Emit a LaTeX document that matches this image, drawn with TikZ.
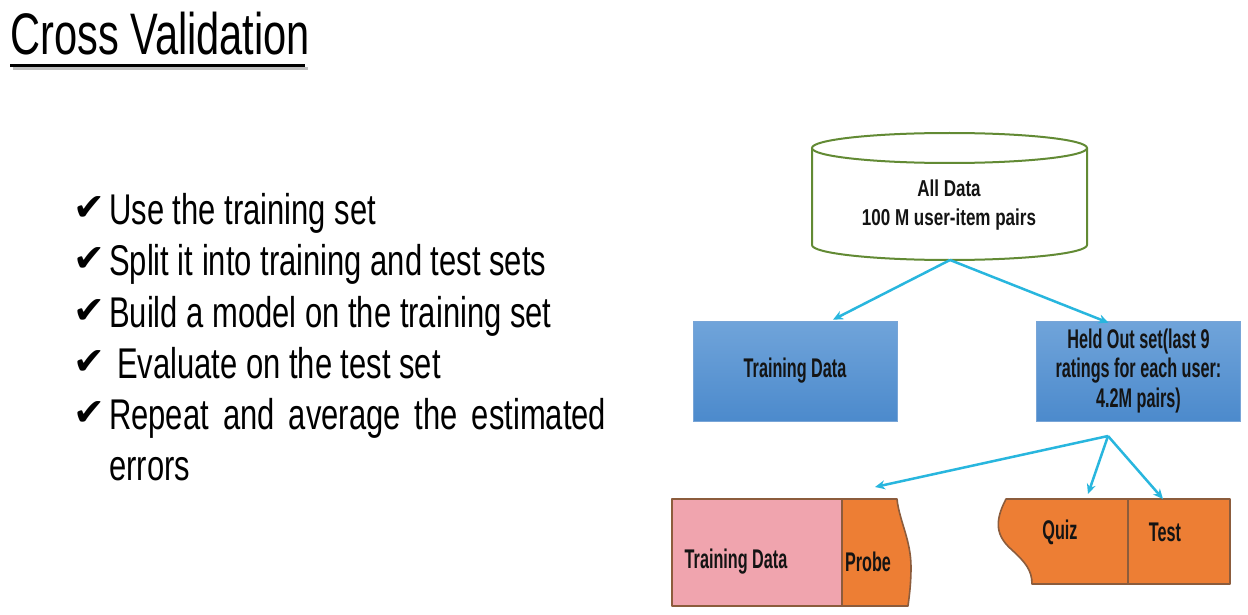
\documentclass[tikz,border=0pt]{standalone}
\usepackage{fontspec}
\setmainfont{Liberation Sans}
\newfontfamily\bodyfont{Liberation Sans}[FakeStretch=0.72]
\newfontfamily\titlefont{Liberation Sans}[FakeStretch=0.71]
\newfontfamily\lblfont{Liberation Sans Bold}[FakeStretch=0.6]
\newfontfamily\cylfont{Liberation Sans Bold}[FakeStretch=0.74]
\newfontfamily\symfont{DejaVu Sans}
\usetikzlibrary{arrows.meta}

\definecolor{cylgreen}{RGB}{98,138,52}
\definecolor{flowcyan}{RGB}{40,182,222}
\definecolor{boxtop}{RGB}{112,164,218}
\definecolor{boxbot}{RGB}{76,138,204}
\definecolor{boxedge}{RGB}{120,165,215}
\definecolor{pinkfill}{RGB}{240,164,174}
\definecolor{orangefill}{RGB}{237,126,52}
\definecolor{segedge}{RGB}{140,92,60}
\definecolor{inktext}{RGB}{20,20,20}

\tikzset{
  bullet/.style={anchor=base west, inner sep=0pt, font=\bodyfont\fontsize{43}{51}\selectfont},
  tick/.style={anchor=base west, inner sep=0pt, font=\symfont\fontsize{38}{38}\selectfont},
  bluebox/.style={minimum width=204pt, minimum height=100pt, inner sep=0pt,
    top color=boxtop, bottom color=boxbot, draw=boxedge, line width=0.6pt,
    text=inktext, font=\lblfont\fontsize{27}{29.5}\selectfont, align=center},
  seglabel/.style={inner sep=0pt, text=inktext, font=\lblfont\fontsize{27}{29.5}\selectfont},
  segment/.style={draw=segedge, line width=1.6pt, line join=round},
  flow/.style={draw=flowcyan, line width=2.5pt, -{Stealth[length=10pt,width=9pt]}}
}

\begin{document}
\begin{tikzpicture}[x=1pt,y=-1pt]
\useasboundingbox (0,0) rectangle (1248,615);
\fill[white] (0,0) rectangle (1248,615);

% heading and its underline with a soft shadow
\draw[black!25, line width=3pt] (13,69) -- (308,69);
\node (title) [anchor=base west, inner sep=0pt] at (10,55)
  {\titlefont\fontsize{58.6}{60}\selectfont Cross Validation};
\draw[black, line width=3pt] (10,66) -- (305,66);

% checklist
\foreach \yy/\nm in {224/t1,275/t2,327/t3,378/t4,429/t5}
  \node (\nm) [tick] at (73,\yy-4) {✔};
\node (b1) [bullet] at (109,224) {Use the training set};
\node (b2) [bullet] at (109,275) {Split it into training and test sets};
\node (b3) [bullet] at (109,327) {Build a model on the training set};
\node (b4) [bullet] at (117,378) {Evaluate on the test set};
\node (b5) [bullet] at (109,429) {\makebox[497pt][s]{Repeat and average the estimated}};
\node (b6) [bullet] at (109,480) {errors};

% data store
\draw[cylgreen, line width=2pt, fill=white]
  (812,148) -- (812,245) arc[start angle=180, end angle=0, x radius=137.5, y radius=15] -- (1087,148);
\draw[cylgreen, line width=2pt, fill=white] (949.5,148) ellipse[x radius=137.5, y radius=15];
\node (all) [align=center, inner sep=0pt, text=inktext, font=\cylfont\fontsize{23}{29}\selectfont] at (949,205)
  {All Data\\100 M user-item pairs};
\coordinate (allbot) at (950,260);

% first split
\node (train) [bluebox] at (795,371) {Training Data};
\node (held) [bluebox] at (1138.5,371) {Held Out set(last 9\\ratings for each user:\\4.2M pairs)};

\draw[flow] (allbot) -- ([xshift=38pt,yshift=1pt]train.north);
\draw[flow] (allbot) -- ([xshift=-30pt,yshift=-2pt]held.north);

% lower strips
\path[segment, fill=pinkfill] (672,499) rectangle (842,606);
\path[segment, fill=orangefill] (842,499) -- (897,499)
  .. controls (899,520) and (911,540) .. (911,567)
  .. controls (911,585) and (909,598) .. (908,606) -- (842,606) -- cycle;
\path[segment, fill=orangefill] (1006,499) -- (1230,499) -- (1230,584) -- (1032,584)
  .. controls (1032,570) and (1025,562) .. (1012,550)
  .. controls (996,536) and (994,522) .. (1006,499) -- cycle;
\draw[segment] (1128,499) -- (1128,584);

\node (ptrain) [seglabel] at (736,562) {Training Data};
\node (probe) [seglabel] at (868,562) {Probe};
\node (quiz) [seglabel] at (1060,532) {Quiz};
\node (test) [seglabel] at (1165,532) {Test};

% second split
\coordinate (fork) at (1108,436);
\coordinate (probein) at (875,487);
\coordinate (quizin) at (1088,494);
\coordinate (testin) at (1163,499);
\draw[flow] (fork) -- (probein);
\draw[flow] (fork) -- (quizin);
\draw[flow] (fork) -- (testin);
\end{tikzpicture}
\end{document}
